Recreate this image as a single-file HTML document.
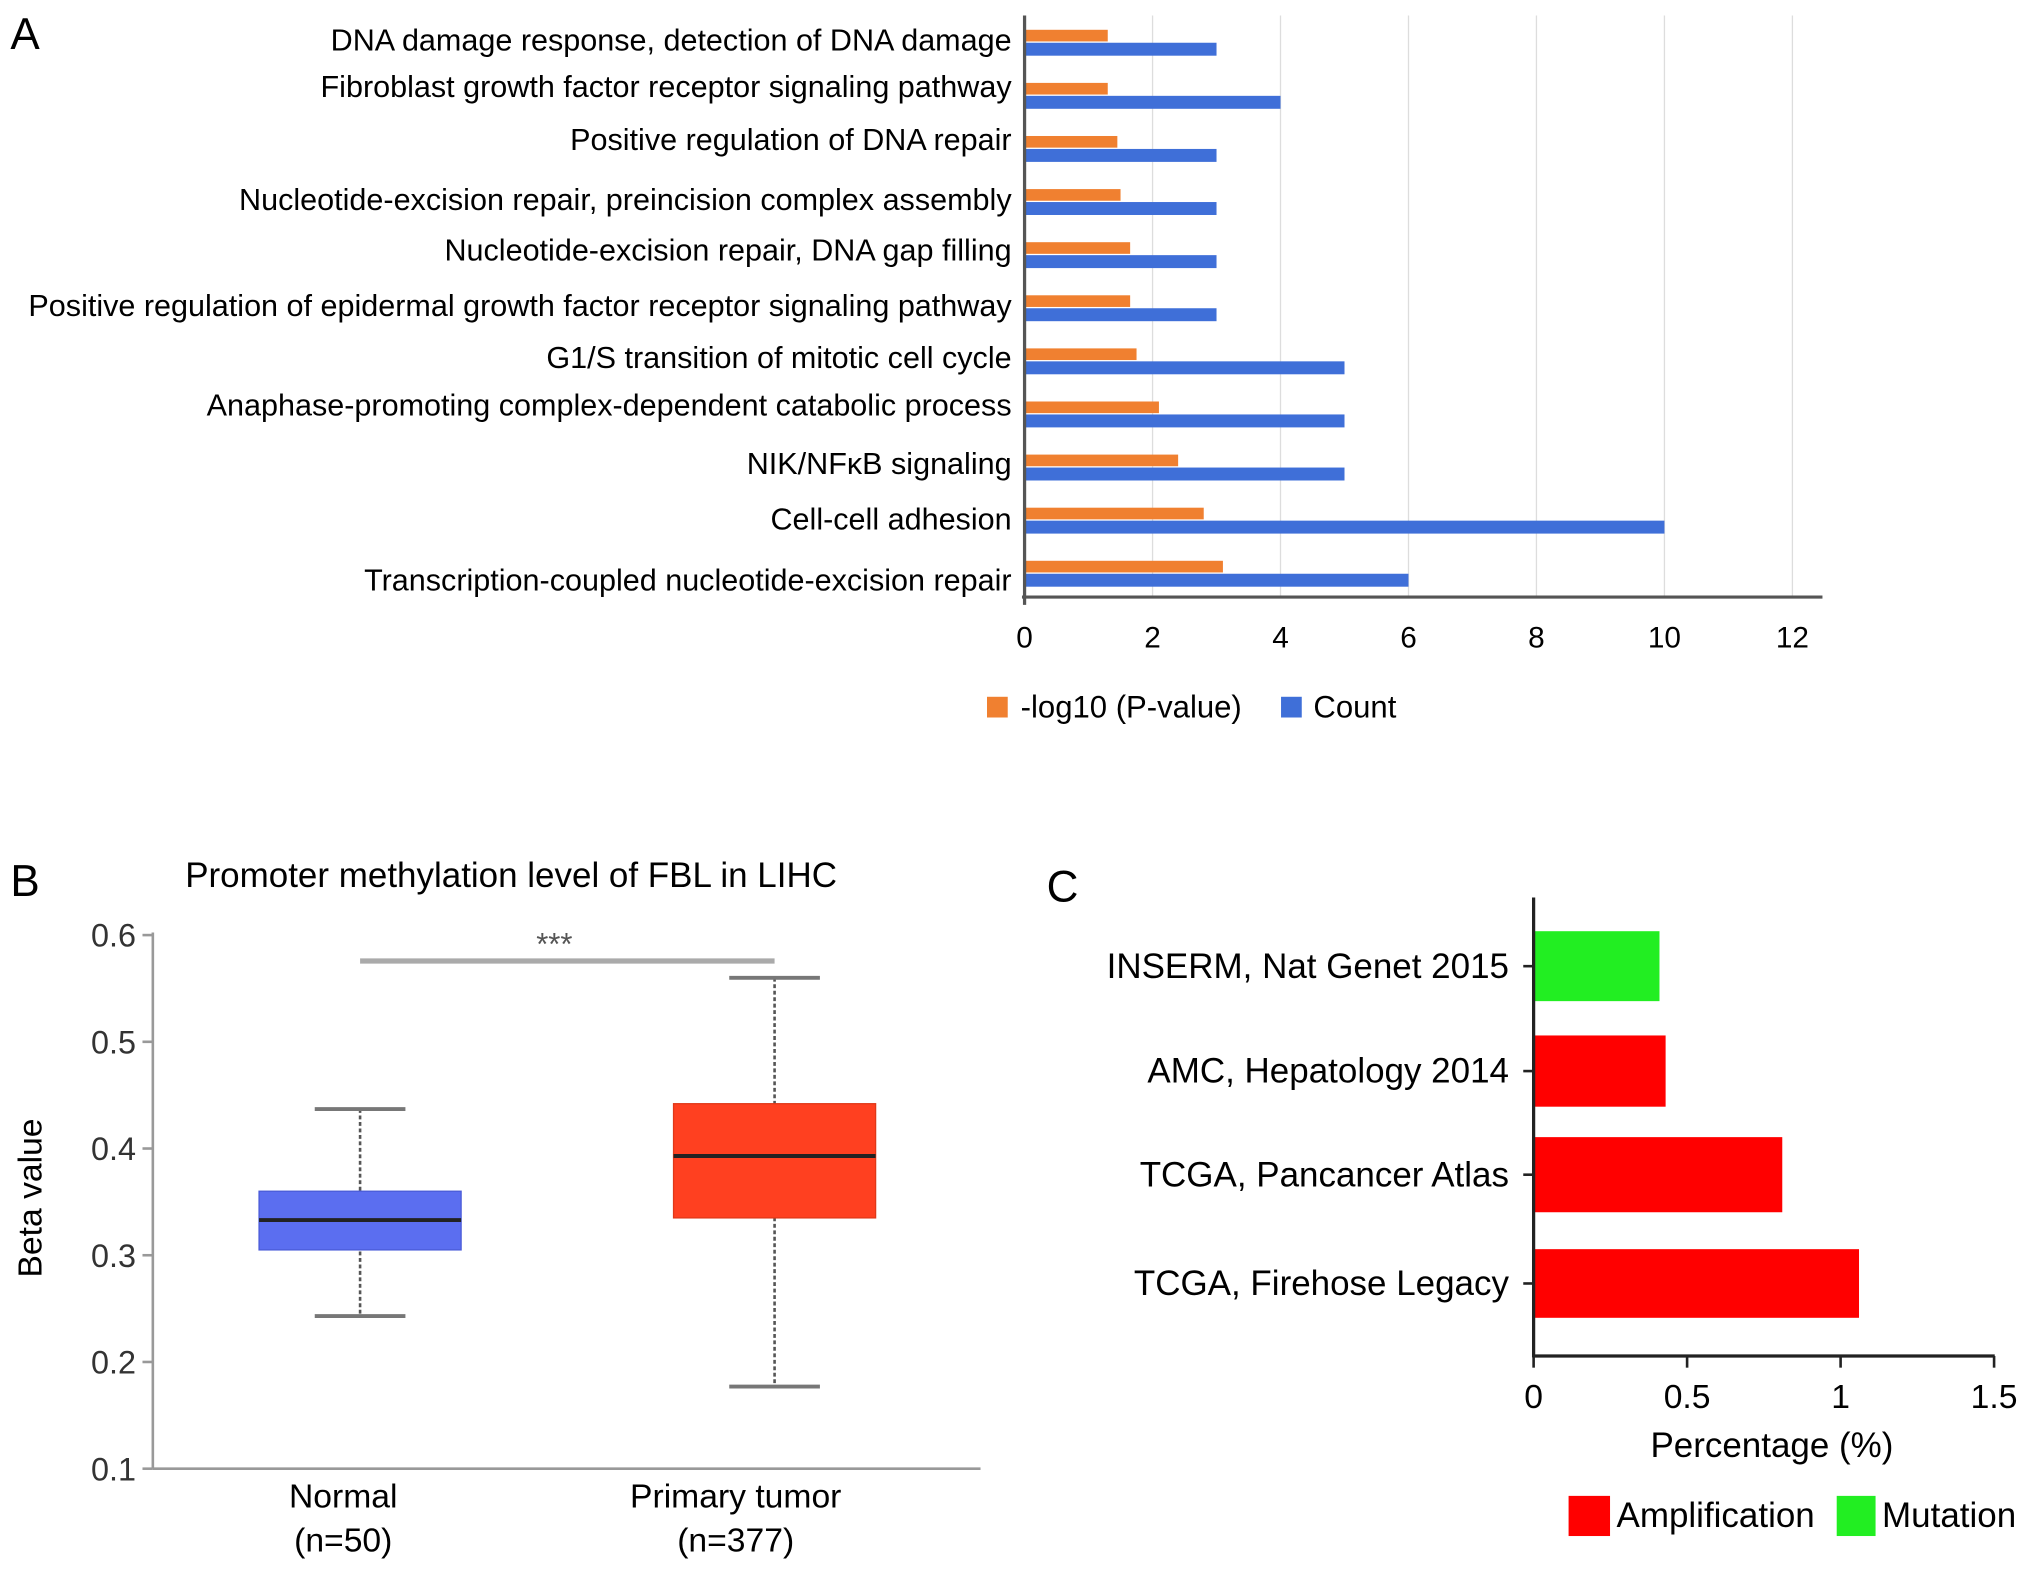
<!DOCTYPE html>
<html><head><meta charset="utf-8"><style>
html,body{margin:0;padding:0;background:#fff}
svg{display:block;font-family:"Liberation Sans",Arial,sans-serif}
</style></head><body>
<svg id="fig" width="2031" height="1571" viewBox="0 0 1568 1213" preserveAspectRatio="none">
<text x="8" y="38" font-size="34">A</text>
<text x="8" y="692" font-size="34">B</text>
<text x="808" y="696" font-size="34">C</text>
<g id="A"></g>
<g id="B"></g>
<g id="C"></g>
</svg>
<script>
const aCategories=["DNA damage response, detection of DNA damage","Fibroblast growth factor receptor signaling pathway","Positive regulation of DNA repair","Nucleotide-excision repair, preincision complex assembly","Nucleotide-excision repair, DNA gap filling","Positive regulation of epidermal growth factor receptor signaling pathway","G1/S transition of mitotic cell cycle","Anaphase-promoting complex-dependent catabolic process","NIK/NF\u03baB signaling","Cell-cell adhesion","Transcription-coupled nucleotide-excision repair"];
const aLogP=[1.3,1.3,1.45,1.5,1.65,1.65,1.75,2.1,2.4,2.8,3.1];
const aCount=[3,4,3,3,3,3,5,5,5,10,6];
const aTicks=[0,2,4,6,8,10,12];
const bGroups=["Normal","Primary tumor"];
const bN=["(n=50)","(n=377)"];
const bMin=[0.243,0.177],bQ1=[0.305,0.335],bMed=[0.333,0.393],bQ3=[0.36,0.442],bMax=[0.437,0.56];
const bTicks=[0.1,0.2,0.3,0.4,0.5,0.6];
const cStudies=["INSERM, Nat Genet 2015","AMC, Hepatology 2014","TCGA, Pancancer Atlas","TCGA, Firehose Legacy"];
const cValues=[0.41,0.43,0.81,1.06];
const cTypes=["Mutation","Amplification","Amplification","Amplification"];
const cTicks=[0,0.5,1,1.5];
const NS="http://www.w3.org/2000/svg";
function mk(p,t,a,txt){const e=document.createElementNS(NS,t);for(const k in a)e.setAttribute(k,a[k]);if(txt!==undefined)e.textContent=txt;p.appendChild(e);return e;}
// Panel A
const A=document.getElementById('A');
const ax=v=>791+v*49.4;
const rowY=i=>32+i*41;
const labelBase=[39,75,116,162,201,244,284,321,366,409,456];
aTicks.forEach(t=>{if(t>0){const g=mk(A,'line',{x1:ax(t),x2:ax(t),y1:12,y2:461,stroke:'#ddd','stroke-width':1});}
const l=mk(A,'text',{x:ax(t),y:500,'font-size':23,'text-anchor':'middle'},String(t));});
aCategories.forEach((c,i)=>{const y=rowY(i);
const o=mk(A,'rect',{x:ax(0),y:y-9,width:ax(aLogP[i])-ax(0),height:9,fill:'#f08030'});
const b=mk(A,'rect',{x:ax(0),y:y+1,width:ax(aCount[i])-ax(0),height:10,fill:'#3f6fd8'});
const t=mk(A,'text',{x:781,y:labelBase[i],'font-size':23.6,'text-anchor':'end'},c);});
mk(A,'line',{x1:791,x2:791,y1:12,y2:467,stroke:'#555','stroke-width':2.5});
mk(A,'line',{x1:789,x2:1407,y1:461,y2:461,stroke:'#555','stroke-width':2.5});
let e=mk(A,'rect',{x:762,y:538,width:16,height:16,fill:'#f08030'});
e=mk(A,'text',{x:788,y:554,'font-size':24},'-log10 (P-value)');
e=mk(A,'rect',{x:989,y:538,width:16,height:16,fill:'#3f6fd8'});
e=mk(A,'text',{x:1014,y:554,'font-size':24},'Count');
// Panel B
const B=document.getElementById('B');
const by=v=>1134-(v-0.1)*824;
const bx=[278,598],bFill=['#5b6ef0','#ff4020'],bEdge=['#4a5bd8','#e03818'];
e=mk(B,'text',{x:143,y:685,'font-size':27},'Promoter methylation level of FBL in LIHC');
e=mk(B,'text',{x:0,y:0,'font-size':26,'text-anchor':'middle',transform:'translate(32,925) rotate(-90)'},'Beta value');
mk(B,'line',{x1:118,x2:118,y1:720,y2:1134,stroke:'#999','stroke-width':2});
mk(B,'line',{x1:118,x2:757,y1:1134,y2:1134,stroke:'#999','stroke-width':2});
bTicks.forEach(t=>{mk(B,'line',{x1:110,x2:118,y1:by(t),y2:by(t),stroke:'#999','stroke-width':2});
const l=mk(B,'text',{x:105,y:by(t)+9,'font-size':25,'text-anchor':'end',fill:'#333'},t.toFixed(1));});
bGroups.forEach((g,i)=>{const x=bx[i];
mk(B,'line',{x1:x,x2:x,y1:by(bMax[i]),y2:by(bMin[i]),stroke:'#555','stroke-width':2,'stroke-dasharray':'3,2'});
[bMax[i],bMin[i]].forEach(v=>{const c=mk(B,'line',{x1:x-35,x2:x+35,y1:by(v),y2:by(v),stroke:'#777','stroke-width':3});});
const r=mk(B,'rect',{x:x-78,y:by(bQ3[i]),width:156,height:by(bQ1[i])-by(bQ3[i]),fill:bFill[i],stroke:bEdge[i],'stroke-width':1});
const m=mk(B,'line',{x1:x-78,x2:x+78,y1:by(bMed[i]),y2:by(bMed[i]),stroke:'#222','stroke-width':3});
const cx=i==0?265:568;
let t=mk(B,'text',{x:cx,y:1164,'font-size':26,'text-anchor':'middle'},g);
t=mk(B,'text',{x:cx,y:1198,'font-size':26,'text-anchor':'middle'},bN[i]);});
e=mk(B,'line',{x1:278,x2:598,y1:742,y2:742,stroke:'#aaa','stroke-width':4});
e=mk(B,'text',{x:428,y:737,'font-size':24,'text-anchor':'middle',fill:'#555'},'***');
// Panel C
const C=document.getElementById('C');
const cx=v=>1184+v*237;
const cY=[746,827,907,991],cH=[54,55,58,53];
cStudies.forEach((s,i)=>{const r=mk(C,'rect',{x:cx(0),y:cY[i]-cH[i]/2,width:cx(cValues[i])-cx(0),height:cH[i],fill:cTypes[i]=='Mutation'?'#22ee22':'#ff0000'});
mk(C,'line',{x1:1176,x2:1184,y1:cY[i],y2:cY[i],stroke:'#222','stroke-width':2});
const t=mk(C,'text',{x:1165,y:cY[i]+9,'font-size':27,'text-anchor':'end'},s);});
mk(C,'line',{x1:1184,x2:1184,y1:693,y2:1048,stroke:'#222','stroke-width':2.5});
mk(C,'line',{x1:1183,x2:1540,y1:1047,y2:1047,stroke:'#222','stroke-width':2.5});
cTicks.forEach(t=>{mk(C,'line',{x1:cx(t),x2:cx(t),y1:1047,y2:1056,stroke:'#222','stroke-width':2});
const l=mk(C,'text',{x:cx(t),y:1087,'font-size':26,'text-anchor':'middle'},String(t));});
e=mk(C,'text',{x:1368,y:1125,'font-size':27,'text-anchor':'middle'},'Percentage (%)');
e=mk(C,'rect',{x:1211,y:1155,width:32,height:31,fill:'#ff0000'});
e=mk(C,'text',{x:1248,y:1179,'font-size':27},'Amplification');
e=mk(C,'rect',{x:1418,y:1155,width:30,height:31,fill:'#22ee22'});
e=mk(C,'text',{x:1453,y:1179,'font-size':27},'Mutation');
</script>
</body></html>
